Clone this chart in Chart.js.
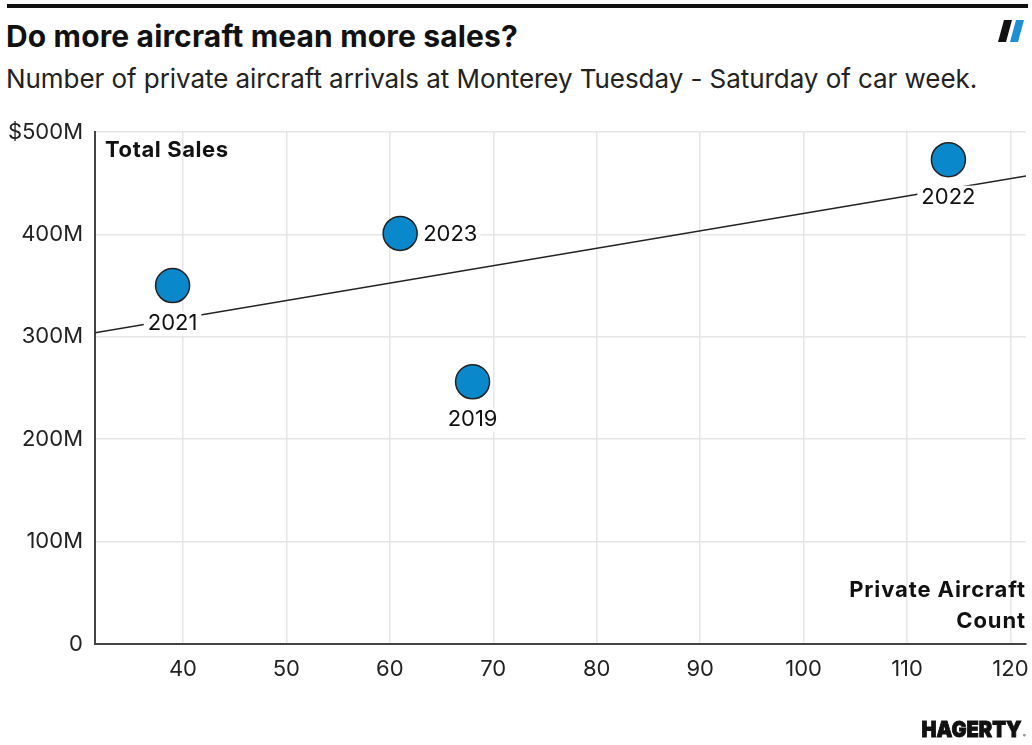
<!DOCTYPE html>
<html>
<head>
<meta charset="utf-8">
<script src="https://cdn.jsdelivr.net/npm/chart.js@4/dist/chart.umd.min.js"></script>
<style>
  body { margin: 0; background: #fff; font-family: Inter, "Noto Sans", sans-serif; }
  #wrap { position: relative; width: 1032px; height: 745px; overflow: hidden; }
  #chart { position: absolute; left: 0; top: 0; }
  .rule { position: absolute; left: 7px; top: 4px; width: 1021px; height: 4px; background: #111; }
  .title { position: absolute; left: 6px; top: 18px; font: bold 30px/36px Inter, sans-serif; color: #111; white-space: nowrap; letter-spacing: 0.15px; }
  .subtitle { position: absolute; left: 6px; top: 63px; font: 26px/32px Inter, sans-serif; color: #222; white-space: nowrap; letter-spacing: -0.06px; }
  .axis-title { position: absolute; font: bold 22px Inter, sans-serif; color: #111; letter-spacing: 0.6px; white-space: nowrap; }
  #yTitle { left: 105px; top: 135px; line-height: 28px; }
  #xTitle { right: 6px; top: 574px; text-align: right; line-height: 31px; letter-spacing: 0.9px; }
  .logo { position: absolute; left: 998px; top: 20px; }
  .brand { position: absolute; left: 921px; top: 719px; }
</style>
</head>
<body>
<div id="wrap">
  <div class="rule"></div>
  <div class="title">Do more aircraft mean more sales?</div>
  <div class="subtitle">Number of private aircraft arrivals at Monterey Tuesday - Saturday of car week.</div>
  <svg class="logo" width="28" height="24">
    <polygon points="6,0 14,0 8,22 0,22" fill="#111"/>
    <polygon points="18,0 26,0 20,22 12,22" fill="#1d8fd6"/>
  </svg>
  <canvas id="chart" width="1032" height="745"></canvas>
  <div class="axis-title" id="yTitle">Total Sales</div>
  <div class="axis-title" id="xTitle">Private Aircraft<br>Count</div>
  <svg class="brand" width="108" height="22">
    <text x="0.5" y="18" textLength="100" lengthAdjust="spacingAndGlyphs" font-family="Inter, sans-serif" font-weight="900" font-size="22" fill="#111" stroke="#111" stroke-width="0.9">HAGERTY</text>
    <text x="102" y="18" font-family="Inter, sans-serif" font-size="4" fill="#111">®</text>
  </svg>
</div>
<script>
// Data
const years = ['2019', '2021', '2022', '2023'];
const aircraftCount = [68, 39, 114, 61];
const totalSales = [256, 350, 473, 401]; // $ millions
const labelSide = ['below', 'below', 'below', 'right'];

// Trend line end points
const trendX = [31.5, 121.5];
const trendY = [304, 457];

const xTicks = [40, 50, 60, 70, 80, 90, 100, 110, 120];
const yTicks = [0, 100, 200, 300, 400, 500];

const pointBlue = '#0a88cc';

// Draws year labels on a white box so they cut through the trend line
const yearLabels = {
    id: 'yearLabels',
    afterDatasetsDraw(chart) {
        const ctx = chart.ctx;
        const meta = chart.getDatasetMeta(1);
        ctx.save();
        ctx.font = '22px Inter, sans-serif';
        ctx.textBaseline = 'middle';
        meta.data.forEach((pt, i) => {
            const text = years[i];
            const w = ctx.measureText(text).width;
            let x, y;
            if (labelSide[i] === 'right') {
                x = pt.x + 23;
                y = pt.y + 1;
                ctx.textAlign = 'left';
                ctx.fillStyle = '#fff';
                ctx.fillRect(x - 3, y - 12, w + 6, 24);
            } else {
                x = pt.x;
                y = pt.y + 38;
                ctx.textAlign = 'center';
                ctx.fillStyle = '#fff';
                ctx.fillRect(x - w / 2 - 4, y - 12, w + 8, 24);
            }
            ctx.fillStyle = '#111';
            ctx.fillText(text, x, y);
        });
        ctx.restore();
    }
};

const ctx = document.getElementById('chart').getContext('2d');
window.salesChart = new Chart(ctx, {
    type: 'scatter',
    data: {
        datasets: [
            {
                type: 'line',
                data: trendX.map((x, i) => ({ x: x, y: trendY[i] })),
                borderColor: '#222',
                borderWidth: 1.5,
                pointRadius: 0,
                fill: false,
                order: 2
            },
            {
                data: aircraftCount.map((x, i) => ({ x: x, y: totalSales[i] })),
                backgroundColor: pointBlue,
                borderColor: '#222',
                borderWidth: 1.5,
                pointRadius: 17,
                pointHoverRadius: 17,
                order: 1
            }
        ]
    },
    options: {
        responsive: false,
        animation: false,
        devicePixelRatio: 1,
        layout: {
            autoPadding: false,
            padding: { top: 132, right: 6, bottom: 51, left: 0 }
        },
        plugins: {
            legend: { display: false },
            tooltip: { enabled: false }
        },
        scales: {
            x: {
                type: 'linear',
                min: 31.5,
                max: 121.5,
                afterFit: function(scale) {
                    scale.height = 50;
                    scale.paddingLeft = 0;
                    scale.paddingRight = 0;
                },
                afterBuildTicks: function(scale) {
                    scale.ticks = xTicks.map(v => ({ value: v }));
                },
                border: { color: '#444', width: 2 },
                grid: { color: '#e6e6e6', lineWidth: 1.5, drawTicks: false },
                ticks: {
                    color: '#222',
                    padding: 12,
                    font: { family: 'Inter, sans-serif', size: 22 }
                }
            },
            y: {
                min: 0,
                max: 500,
                afterFit: function(scale) {
                    scale.width = 95;
                    scale.paddingTop = 0;
                    scale.paddingBottom = 0;
                },
                afterBuildTicks: function(scale) {
                    scale.ticks = yTicks.map(v => ({ value: v }));
                },
                border: { color: '#444', width: 2 },
                grid: { color: '#e6e6e6', lineWidth: 1.5, drawTicks: false },
                ticks: {
                    color: '#222',
                    padding: 12,
                    font: { family: 'Inter, sans-serif', size: 22 },
                    callback: function(v) {
                        if (v === 0) return '0';
                        if (v === 500) return '$500M';
                        return v + 'M';
                    }
                }
            }
        }
    },
    plugins: [yearLabels]
});
</script>
</body>
</html>
